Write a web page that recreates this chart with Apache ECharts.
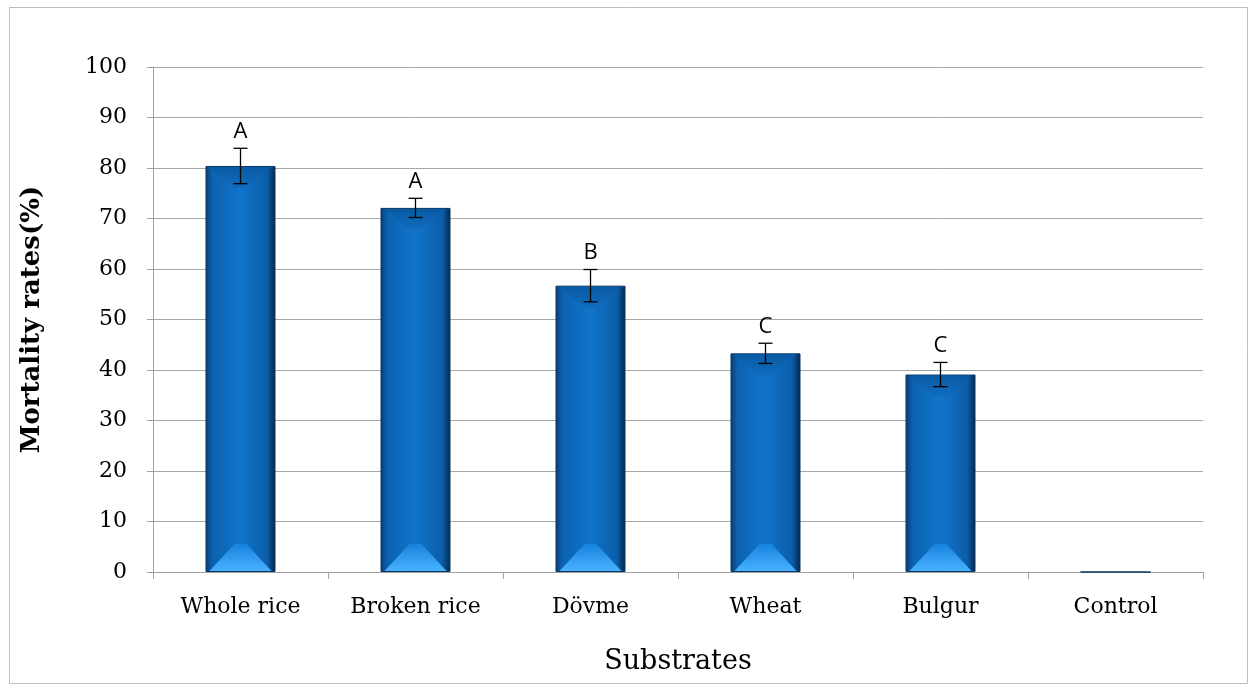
<!DOCTYPE html>
<html><head><meta charset="utf-8">
<script src="https://cdn.jsdelivr.net/npm/echarts@6/dist/echarts.min.js"></script>
<style>html,body{margin:0;padding:0;background:#fff}#c{width:1255px;height:689px}</style>
</head><body><div id="c"></div>
<script>
const categories = ['Whole rice','Broken rice','Dövme','Wheat','Bulgur','Control'];
const mortality = [80.4, 72.1, 56.7, 43.3, 39.1, 0];
const errors = [3.5, 1.9, 3.2, 2.0, 2.4, 0];
const letters = ['A','A','B','C','C',''];
const yTicks = {min:0, max:100, interval:10};

const chart = echarts.init(document.getElementById('c'));
const errData = categories.map((c,i)=>[i, mortality[i]-errors[i], mortality[i]+errors[i]]);
const bevelData = categories.map((c,i)=>[i, mortality[i]]);
chart.setOption({
  animation:false,
  backgroundColor:'#fff',
  graphic:[{type:'rect', shape:{x:9.5,y:7.5,width:1238,height:676}, style:{fill:'none',stroke:'#bdbdbd',lineWidth:1}}],
  grid:{left:153,right:52,top:67,bottom:117},
  xAxis:{type:'category', data:categories, boundaryGap:true,
    name:'Substrates', nameLocation:'middle', nameGap:76,
    nameTextStyle:{fontFamily:'DejaVu Serif', fontSize:27, color:'#000'},
    axisLine:{lineStyle:{color:'#a0a0a0'}},
    axisTick:{show:true, length:7, lineStyle:{color:'#a0a0a0'}},
    axisLabel:{fontFamily:'DejaVu Serif', fontSize:22, color:'#000', margin:24}},
  yAxis:{type:'value', min:yTicks.min, max:yTicks.max, interval:yTicks.interval,
    name:'Mortality rates(%)', nameLocation:'middle', nameGap:108,
    nameTextStyle:{fontFamily:'DejaVu Serif', fontSize:26, fontWeight:'bold', color:'#000'},
    axisLine:{show:true, lineStyle:{color:'#a0a0a0'}},
    axisTick:{show:true, length:6, lineStyle:{color:'#a0a0a0'}},
    splitLine:{lineStyle:{color:'#a6a6a6'}},
    axisLabel:{fontFamily:'DejaVu Serif', fontSize:22, color:'#000', margin:26}},
  series:[
    {type:'bar', data:mortality, barWidth:'40%',
     itemStyle:{borderColor:'#0a3561', borderWidth:1,
       color:{type:'linear',x:0,y:0,x2:1,y2:0,colorStops:[
         {offset:0,color:'#093e74'},{offset:0.1,color:'#0c62b0'},{offset:0.5,color:'#1174cb'},
         {offset:0.88,color:'#0b5ea9'},{offset:1,color:'#04274b'}]}}},
    {type:'custom', data:bevelData, z:3,
     renderItem:function(params, api){
       const i=api.value(0), v=api.value(1);
       if(v<=0) return null;
       const bottom=api.coord([i,0]), top=api.coord([i,v]);
       const w=api.size([1,0])[0]*0.4;
       const x0=bottom[0]-w/2, x1=bottom[0]+w/2, yb=bottom[1], yt=top[1];
       return {type:'group', children:[
         {type:'polygon', shape:{points:[[x0+4,yb-1],[x1-4,yb-1],[bottom[0]+6,yb-28],[bottom[0]-6,yb-28]]},
          style:{fill:{type:'linear',x:0,y:0,x2:0,y2:1,colorStops:[{offset:0,color:'#1682dd'},{offset:1,color:'#48b2ff'}]}}},
         {type:'polygon', shape:{points:[[x0+4,yt+1],[x1-4,yt+1],[bottom[0]+6,yt+22],[bottom[0]-6,yt+22]]},
          style:{fill:{type:'linear',x:0,y:0,x2:0,y2:1,colorStops:[{offset:0,color:'#0a5aa3'},{offset:1,color:'#0f6cc0'}]}}}
       ]};
     }},
    {type:'custom', data:errData, z:5,
     renderItem:function(params, api){
       const i=api.value(0), lo=api.value(1), hi=api.value(2);
       const letter=letters[params.dataIndex];
       if(!letter) return null;
       const a=api.coord([i,lo]), b=api.coord([i,hi]);
       const hw=7;
       return {type:'group', children:[
         {type:'line', shape:{x1:a[0],y1:a[1],x2:b[0],y2:b[1]}, style:{stroke:'#000',lineWidth:1.3}},
         {type:'line', shape:{x1:a[0]-hw,y1:a[1],x2:a[0]+hw,y2:a[1]}, style:{stroke:'#000',lineWidth:1.3}},
         {type:'line', shape:{x1:b[0]-hw,y1:b[1],x2:b[0]+hw,y2:b[1]}, style:{stroke:'#000',lineWidth:1.3}},
         {type:'text', style:{text:letter, x:b[0], y:b[1]-6, textAlign:'center', textVerticalAlign:'bottom',
           font:'22px "Open Sans", "DejaVu Sans", sans-serif', fill:'#000'}}
       ]};
     }}
  ]
});
</script></body></html>
